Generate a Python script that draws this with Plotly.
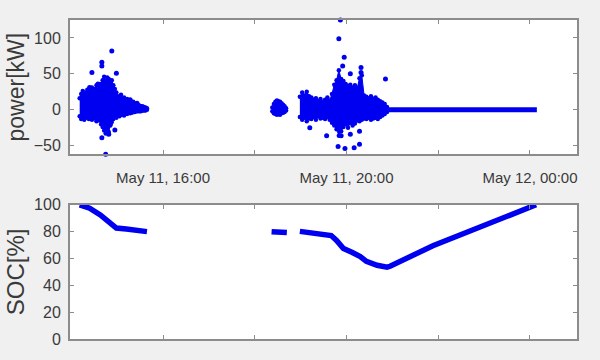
import pandas as pd
import plotly.graph_objects as go

BASE = pd.Timestamp("2017-05-11 14:00")

# ---- power [kW]: dense clusters given as upper / lower envelope (minutes after 14:00)
c1_min = [11, 13, 15, 17, 19, 21, 23, 25, 27, 29, 31, 33, 35, 37, 39, 41, 43, 45, 47, 49, 51, 53, 55,
          57, 59, 61, 63, 65, 67, 69, 71, 73, 75, 77, 79, 81, 83, 85, 87, 89, 91, 93, 95, 97, 99]
c1_hi = [16, 22, 26, 21, 24, 28, 23, 27, 31, 25, 29, 34, 28, 32, 36, 41, 46, 40, 45, 43, 37, 41, 34,
         29, 24, 19, 17, 21, 15, 17, 13, 15, 11, 13, 10, 11, 8, 9, 7, 6, 5, 5, 4, 3, 2]
c1_lo = [-9, -13, -10, -14, -11, -9, -13, -10, -14, -9, -12, -16, -12, -15, -20, -24, -29, -33, -26, -31,
         -22, -17, -13, -10, -11, -8, -9, -7, -6, -8, -5, -6, -4, -5, -4, -3, -3, -2, -2, -2, -2, -1, -1, -1, 0]

c2_min = [263, 265, 267, 269, 271, 273, 275, 277, 279, 281]
c2_hi = [3, 8, 11, 13, 12, 11, 9, 7, 5, 2]
c2_lo = [-2, -5, -6, -7, -6, -7, -5, -4, -3, -1]

c3_min = [299, 302, 305, 308, 311, 314, 317, 320, 323, 326, 329, 332, 335, 338, 341, 344, 347, 350, 353,
          356, 359, 362, 365, 368, 371, 374, 377, 380, 383, 386, 389, 392, 395, 398, 401, 404, 407, 410, 413]
c3_hi = [18, 24, 20, 25, 19, 17, 14, 16, 12, 15, 11, 14, 17, 13, 22, 35, 41, 55, 43, 40, 36, 33, 35, 31,
         34, 30, 44, 48, 20, 18, 16, 19, 15, 17, 14, 12, 10, 8, 4]
c3_lo = [-10, -14, -11, -16, -12, -13, -10, -14, -9, -12, -11, -13, -10, -14, -18, -22, -27, -36, -30, -24,
         -20, -25, -18, -22, -19, -15, -16, -14, -12, -13, -11, -14, -12, -11, -13, -10, -8, -6, -3]

# isolated power points
out_min = [53, 40, 40, 27, 59, 40, 45, 49, 57, 51, 77, 86, 35, 24,
           352, 350, 357, 355, 365, 379, 379, 411, 312, 334, 349, 358, 370, 377, 377, 353, 365]
out_kw = [82, 66, 61, 52, 51, -39, -62, -34, -28, -20, 14, 9, 36, 31,
          125, 99, 73, 61, 50, 59, 52, 43, -25, -36, -51, -54, -53, -48, -30, -36, -34]

# idle period (zero power)
idle_min = [413, 450, 500, 550, 609]
idle_kw = [0, 0, 0, 0, 0]

# ---- state of charge [%]
soc_min = [11, 24, 38, 46, 55, 59, 72, 86, 99, None,
           262, 272, 282, None,
           299, 312, 325, 340, 347, 356, 367, 378, 386, 400, 413, 417, 473, 539, 608]
soc_pct = [100, 97.5, 92.5, 89, 84.5, 82.7, 81.9, 80.7, 80, None,
           80, 79.6, 79.3, None,
           80.2, 79.5, 78.3, 77.1, 73.5, 67.5, 64.6, 61.4, 57.8, 54.9, 53.5, 54.2, 69.5, 84.5, 100]

tick_times = ["2017-05-11 16:00", "2017-05-11 18:00", "2017-05-11 20:00", "2017-05-11 22:00", "2017-05-12 00:00"]
tick_text = ["May 11, 16:00", "", "May 11, 20:00", "", "May 12, 00:00"]
x_range = ["2017-05-11 13:58:20", "2017-05-12 01:01:30"]


def to_time(mins):
    return [None if m is None else BASE + pd.Timedelta(minutes=m) for m in mins]


BLUE = "#0000f0"
fig = go.Figure()


def add_cluster(mins, hi, lo):
    xs = to_time(mins) + to_time(mins[::-1])
    ys = hi + lo[::-1]
    fig.add_trace(go.Scatter(x=xs, y=ys, mode="lines+markers", fill="toself", fillcolor=BLUE,
                             line=dict(color=BLUE, width=1),
                             marker=dict(color=BLUE, size=4.5, symbol="circle"),
                             xaxis="x", yaxis="y", showlegend=False, hoverinfo="skip"))


add_cluster(c1_min, c1_hi, c1_lo)
add_cluster(c2_min, c2_hi, c2_lo)
add_cluster(c3_min, c3_hi, c3_lo)

fig.add_trace(go.Scatter(x=to_time(out_min), y=out_kw, mode="markers",
                         marker=dict(color=BLUE, size=5, symbol="circle"),
                         xaxis="x", yaxis="y", showlegend=False, cliponaxis=False))
fig.add_trace(go.Scatter(x=to_time(idle_min), y=idle_kw, mode="lines",
                         line=dict(color=BLUE, width=5),
                         xaxis="x", yaxis="y", showlegend=False))

fig.add_trace(go.Scatter(x=to_time(soc_min), y=soc_pct, mode="lines",
                         line=dict(color=BLUE, width=5.5), connectgaps=False,
                         xaxis="x2", yaxis="y2", showlegend=False, cliponaxis=False))

FONT = "Liberation Sans, Arial, sans-serif"
AXC = "#8c8c8c"
TXT = "#3a3a3a"

common_x = dict(type="date", range=x_range, tickmode="array", tickvals=tick_times, ticktext=tick_text,
                ticks="inside", ticklen=4, tickcolor=AXC, tickwidth=1, showline=True, linecolor=AXC,
                linewidth=2, mirror="allticks", showgrid=False, zeroline=False,
                tickfont=dict(family=FONT, size=15, color=TXT))
common_y = dict(ticks="inside", ticklen=4, tickcolor=AXC, tickwidth=1, showline=True, linecolor=AXC,
                linewidth=2, mirror="allticks", showgrid=False, zeroline=False,
                tickfont=dict(family=FONT, size=16, color=TXT), ticklabelstandoff=4)

fig.update_layout(
    width=600, height=360,
    margin=dict(l=70, r=23, t=15, b=17),
    paper_bgcolor="#f0f0f0", plot_bgcolor="#ffffff",
    xaxis=dict(common_x, anchor="y", domain=[0, 1], ticklabelstandoff=9),
    yaxis=dict(common_y, domain=[0.579, 1], range=[-62, 125], tickvals=[-50, 0, 50, 100],
               title=dict(text="power[kW]", font=dict(family=FONT, size=23, color=TXT), standoff=3)),
    xaxis2=dict(common_x, anchor="y2", domain=[0, 1], showticklabels=False),
    yaxis2=dict(common_y, domain=[0, 0.4207], range=[0, 100], tickvals=[0, 20, 40, 60, 80, 100],
                title=dict(text="SOC[%]", font=dict(family=FONT, size=24, color=TXT), standoff=3)),
)

fig.write_html("out.html")
